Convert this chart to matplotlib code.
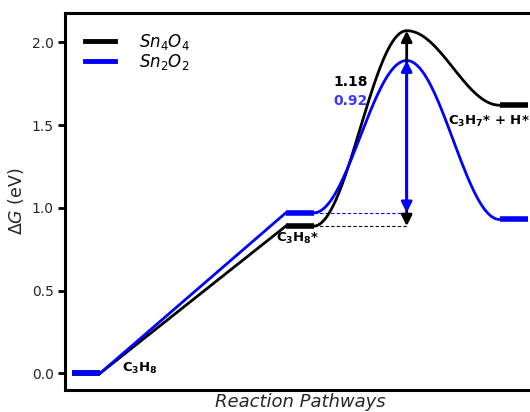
import numpy as np
import matplotlib.pyplot as plt

# free energies (eV) of each state: initial, adsorbed, transition state, final
names = ['Sn4O4', 'Sn2O2']
legend_labels = [r'$Sn_4O_4$', r'$Sn_2O_2$']
colors = ['black', 'blue']
G_initial = [0.0, 0.0]
G_ads = [0.89, 0.97]
G_ts = [2.07, 1.89]
G_final = [1.62, 0.93]
barriers = ['1.18', '0.92']
barrier_colors = ['black', '#3a3aff']

# x layout of the pathway (level widths and connectors)
lvl0 = (0, 3)
lvl1 = (23, 26)
x_ts = 36
lvl2 = (46, 49)


def smooth(x0, x1, y0, y1, n=80):
    t = np.linspace(0, 1, n)
    return x0 + (x1 - x0) * t, y0 + (y1 - y0) * (1 - np.cos(np.pi * t)) / 2


fig = plt.figure(figsize=(5.3, 4.12), dpi=100)
ax = fig.add_axes([65 / 530, 22 / 412, 470 / 530, 377 / 412])

for i in range(2):
    c = colors[i]
    # flat levels
    ax.plot(lvl0, [G_initial[i]] * 2, color=c, lw=4, solid_capstyle='butt', zorder=3 + i)
    ax.plot(lvl1, [G_ads[i]] * 2, color=c, lw=4, solid_capstyle='butt', zorder=3 + i)
    ax.plot(lvl2, [G_final[i]] * 2, color=c, lw=4, solid_capstyle='butt', zorder=3 + i)
    # adsorption ramp
    ax.plot([lvl0[1], lvl1[0]], [G_initial[i], G_ads[i]], color=c, lw=2, zorder=3 + i)
    # reaction barrier
    xa, ya = smooth(lvl1[1], x_ts, G_ads[i], G_ts[i])
    xb, yb = smooth(x_ts, lvl2[0], G_ts[i], G_final[i])
    ax.plot(np.r_[xa, xb], np.r_[ya, yb], color=c, lw=2, zorder=3 + i)
    # reference line for the barrier
    ax.plot([lvl1[1], x_ts], [G_ads[i]] * 2, color=c, lw=0.8, ls='--', dashes=(3, 2), zorder=2)
    # barrier arrow
    ax.annotate('', xy=(x_ts, G_ts[i]), xytext=(x_ts, G_ads[i]),
                arrowprops=dict(arrowstyle='<|-|>', color=c, lw=2,
                                mutation_scale=16, shrinkA=0, shrinkB=0),
                zorder=5 + i)

# legend
for i in range(2):
    ax.plot([], [], color=colors[i], lw=3.5, label=legend_labels[i])
ax.legend(loc='upper left', frameon=False, fontsize=12, handlelength=1.8,
          handletextpad=1.4, labelspacing=0.0, bbox_to_anchor=(0.011, 0.99),
          borderaxespad=0.5)

# state labels
lab = dict(fontsize=9.5, fontweight='bold', va='center', ha='left')
ax.text(5.4, 0.03, r'$\mathbf{C_3H_8}$', **lab)
ax.text(21.9, 0.815, r'$\mathbf{C_3H_8}$*', **lab)
ax.text(40.4, 1.52, r'$\mathbf{C_3H_7}$* + H*', **lab)
for i in range(2):
    ax.text(28.1, [1.76, 1.645][i], barriers[i], color=barrier_colors[i],
            fontsize=10, fontweight='bold', va='center', ha='left')

ax.set_xlim(-0.75, 49.8)
ax.set_ylim(-0.1, 2.177)
ax.set_xticks([])
ax.set_yticks([0.0, 0.5, 1.0, 1.5, 2.0])
ax.set_yticklabels(['0.0', '0.5', '1.0', '1.5', '2.0'])
ax.tick_params(axis='y', direction='out', length=5, width=2, labelsize=10,
               labelcolor='#262626', pad=3)
for s in ax.spines.values():
    s.set_linewidth(2.2)

ax.set_ylabel(r'$\Delta G$ (eV)', fontsize=12.5, color='#262626')
ax.set_xlabel('Reaction Pathways', fontsize=13, style='italic', color='#262626', labelpad=2)

fig.savefig('out.png', dpi=100)
